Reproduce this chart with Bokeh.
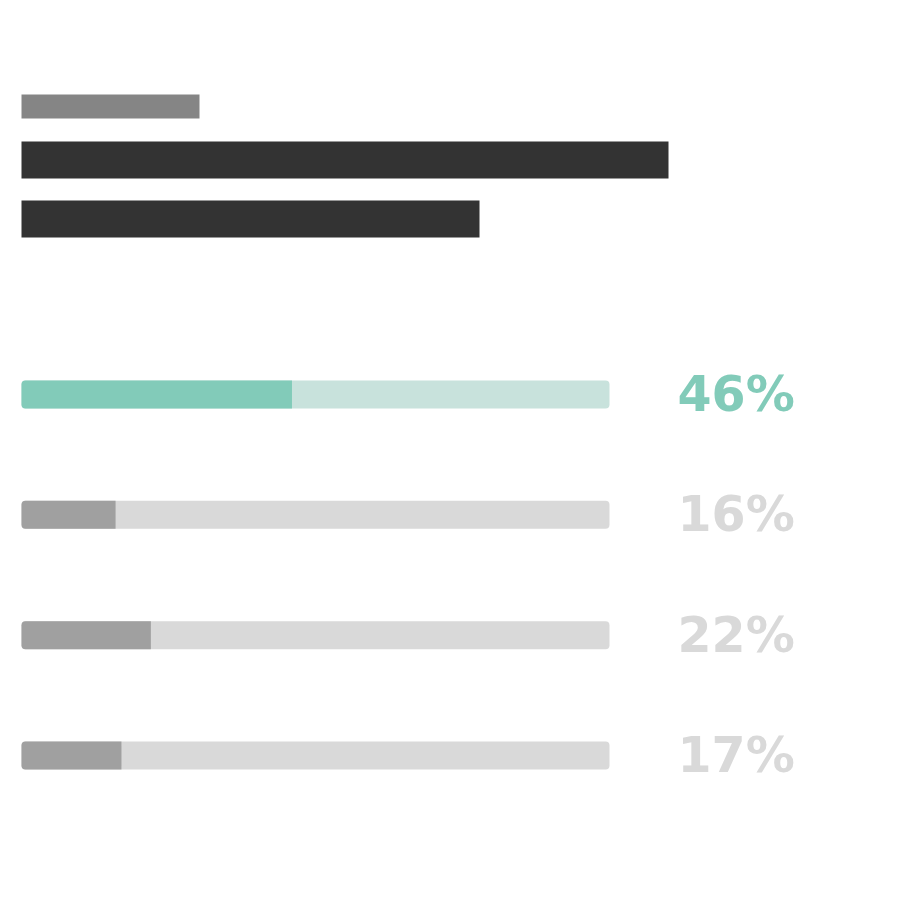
from bokeh.plotting import figure
from bokeh.models import Range1d, ColumnDataSource
from bokeh.core.properties import value
from bokeh.embed import file_html
from bokeh.resources import INLINE

# ---- data ----
labels = ["46%", "16%", "22%", "17%"]
values = [46, 16, 22, 17]
highlight = [True, False, False, False]

# ---- colours ----
HI_FILL, HI_TRACK, HI_TEXT = "#82CBB9", "#C8E2DC", "#82CBB9"
LO_FILL, LO_TRACK, LO_TEXT = "#A0A0A0", "#D9D9D9", "#D9D9D9"

W = H = 884
# x in percent units: 0 -> px 21, 100 -> px 609
ORG_X = 21
px_per_pct = 5.88
x0 = -ORG_X / px_per_pct
x1 = (W - ORG_X) / px_per_pct
# y in row units: row 0 centre at px 394, rows 120.33 px apart
ORG_Y = 394
row_px = 120.33
y_bottom = (H - ORG_Y) / row_px
y_top = -ORG_Y / row_px

p = figure(width=W, height=H, output_backend="svg", toolbar_location=None,
           x_range=Range1d(x0, x1), y_range=Range1d(y_bottom, y_top),
           min_border=0, outline_line_color=None, background_fill_color="white",
           border_fill_color="white")
p.axis.visible = False
p.grid.visible = False

def px_to_row(py):
    return (py - ORG_Y) / row_px

def px_to_pct(px):
    return (px - ORG_X) / px_per_pct

# header placeholder bars (redacted title / subtitle)
header = [
    (199, 94, 118, "#858585"),
    (668, 141, 178, "#333333"),
    (479, 200, 237, "#333333"),
]
for right, top, bottom, col in header:
    p.quad(left=0, right=px_to_pct(right), top=px_to_row(top), bottom=px_to_row(bottom),
           fill_color=col, line_color=None)

rows = list(range(len(values)))
bar_h = 28 / row_px
src = ColumnDataSource(dict(
    y=rows,
    v=values,
    full=[100] * len(values),
    track=[HI_TRACK if h else LO_TRACK for h in highlight],
    fill=[HI_FILL if h else LO_FILL for h in highlight],
    tcol=[HI_TEXT if h else LO_TEXT for h in highlight],
    lab=labels,
    tx=[px_to_pct(677)] * len(values),
))

p.hbar(y="y", left=0, right="full", height=bar_h, source=src,
       fill_color="track", line_color=None, border_radius=4)
p.hbar(y="y", left=0, right="v", height=bar_h, source=src,
       fill_color="fill", line_color=None, border_radius=(4, 0, 0, 4))

p.text(x="tx", y="y", text="lab", source=src, text_color="tcol",
       text_font=value("DejaVu Sans"), text_font_style="bold",
       text_font_size="49px", text_align="left", text_baseline="middle")

open("out.html", "w").write(file_html(p, INLINE))
